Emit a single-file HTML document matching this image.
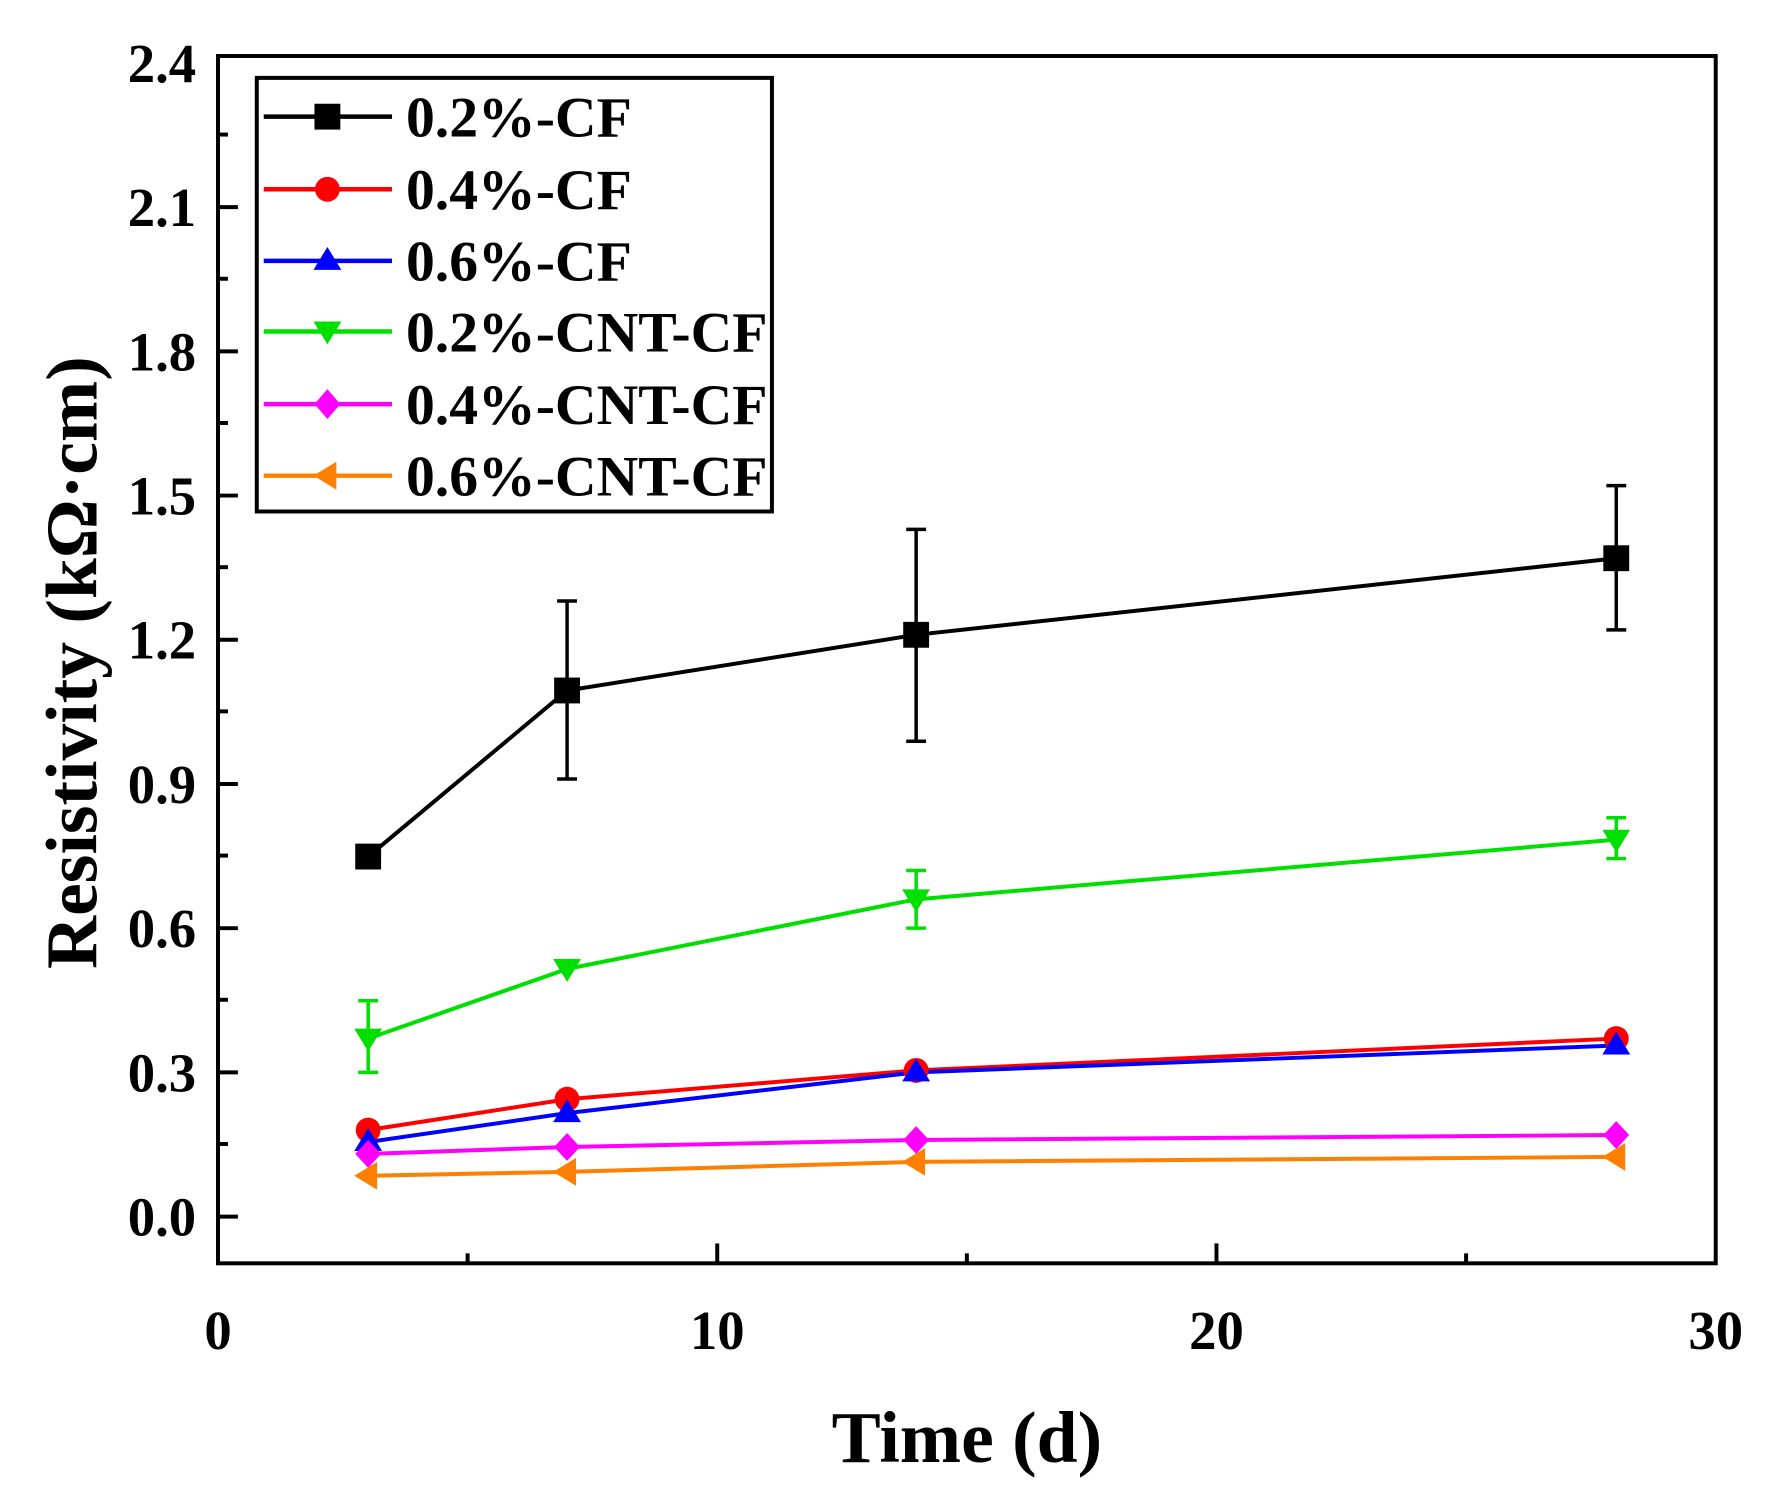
<!DOCTYPE html>
<html><head><meta charset="utf-8"><style>body{margin:0;background:#fff}</style></head><body>
<svg width="1775" height="1499" viewBox="0 0 1775 1499" xmlns="http://www.w3.org/2000/svg" font-family="Liberation Serif, serif" font-weight="bold">
<rect width="1775" height="1499" fill="#fff"/>
<g transform="translate(218,56) scale(0.9945) translate(-218,-56)">
<g stroke="#000" stroke-width="4">
<line x1="218" y1="1223" x2="238" y2="1223"/><line x1="218" y1="1078" x2="238" y2="1078"/>
<line x1="218" y1="933" x2="238" y2="933"/><line x1="218" y1="788" x2="238" y2="788"/>
<line x1="218" y1="643" x2="238" y2="643"/><line x1="218" y1="498" x2="238" y2="498"/>
<line x1="218" y1="353" x2="238" y2="353"/><line x1="218" y1="208" x2="238" y2="208"/>
<line x1="218" y1="1150" x2="228" y2="1150"/><line x1="218" y1="1005" x2="228" y2="1005"/>
<line x1="218" y1="860" x2="228" y2="860"/><line x1="218" y1="715" x2="228" y2="715"/>
<line x1="218" y1="570" x2="228" y2="570"/><line x1="218" y1="425" x2="228" y2="425"/>
<line x1="218" y1="280" x2="228" y2="280"/><line x1="218" y1="135" x2="228" y2="135"/>
<line x1="720" y1="1270" x2="720" y2="1250"/><line x1="1222" y1="1270" x2="1222" y2="1250"/>
<line x1="469" y1="1270" x2="469" y2="1260"/><line x1="971" y1="1270" x2="971" y2="1260"/><line x1="1473" y1="1270" x2="1473" y2="1260"/>
</g>
<rect x="218" y="56" width="1506" height="1214" fill="none" stroke="#000" stroke-width="4"/>
<g font-size="55" text-anchor="end">
<text x="196" y="1242">0.0</text><text x="196" y="1097">0.3</text><text x="196" y="952">0.6</text>
<text x="196" y="807">0.9</text><text x="196" y="662">1.2</text><text x="196" y="517">1.5</text>
<text x="196" y="372">1.8</text><text x="196" y="227">2.1</text><text x="196" y="82">2.4</text>
</g>
<g font-size="55" text-anchor="middle">
<text x="218" y="1356">0</text><text x="720" y="1356">10</text><text x="1222" y="1356">20</text><text x="1724" y="1356">30</text>
</g>
<text x="971" y="1470" font-size="74" text-anchor="middle">Time (d)</text>
<text transform="translate(96,666) rotate(-90)" font-size="74" text-anchor="middle">Resistivity (kΩ·cm)</text>
<g stroke-width="3.5" fill="none">
<g stroke="#000">
<path d="M369 850V872M359 850h20M359 872h20"/>
<path d="M569 604V783M559 604h20M559 783h20"/>
<path d="M920 532V745M910 532h20M910 745h20"/>
<path d="M1624 488V633M1614 488h20M1614 633h20"/>
</g>
<g stroke="#00e000">
<path d="M369 1006V1078M359 1006h20M359 1078h20"/>
<path d="M920 875V933M910 875h20M910 933h20"/>
<path d="M1624 822V863M1614 822h20M1614 863h20"/>
</g>
</g>
<g fill="none" stroke-width="4">
<polyline stroke="#000" points="369,861 569,694 920,638 1624,561"/>
<polyline stroke="#00e000" points="369,1044 569,974 920,904 1624,844"/>
<polyline stroke="#ff0000" points="369,1136 569,1105 920,1076 1624,1044"/>
<polyline stroke="#0000ff" points="369,1148 569,1119 920,1078 1624,1051"/>
<polyline stroke="#ff00ff" points="369,1160 569,1153 920,1146 1624,1141"/>
<polyline stroke="#ff8000" points="369,1182 569,1178 920,1168 1624,1163"/>
</g>
<g fill="#000"><rect x="356" y="848" width="26" height="26"/><rect x="556" y="681" width="26" height="26"/><rect x="907" y="625" width="26" height="26"/><rect x="1611" y="548" width="26" height="26"/></g>
<g fill="#00e000"><path d="M355 1034h28l-14 23z"/><path d="M555 964h28l-14 23z"/><path d="M906 894h28l-14 23z"/><path d="M1610 834h28l-14 23z"/></g>
<g fill="#ff0000"><circle cx="369" cy="1136" r="12.5"/><circle cx="569" cy="1105" r="12.5"/><circle cx="920" cy="1076" r="12.5"/><circle cx="1624" cy="1044" r="12.5"/></g>
<g fill="#0000ff"><path d="M369 1134l14 23h-28z"/><path d="M569 1105l14 23h-28z"/><path d="M920 1064l14 23h-28z"/><path d="M1624 1037l14 23h-28z"/></g>
<g fill="#ff00ff"><path d="M369 1146l13 14-13 14-13-14z"/><path d="M569 1139l13 14-13 14-13-14z"/><path d="M920 1132l13 14-13 14-13-14z"/><path d="M1624 1127l13 14-13 14-13-14z"/></g>
<g fill="#ff8000"><path d="M355 1182l23-14v28z"/><path d="M555 1178l23-14v28z"/><path d="M906 1168l23-14v28z"/><path d="M1610 1163l23-14v28z"/></g>
<rect x="257" y="78" width="518" height="436" fill="#fff" stroke="#000" stroke-width="4"/>
<g stroke-width="4.5">
<line x1="264" y1="117" x2="393" y2="117" stroke="#000"/>
<line x1="264" y1="190" x2="393" y2="190" stroke="#ff0000"/>
<line x1="264" y1="262" x2="393" y2="262" stroke="#0000ff"/>
<line x1="264" y1="333" x2="393" y2="333" stroke="#00e000"/>
<line x1="264" y1="406" x2="393" y2="406" stroke="#ff00ff"/>
<line x1="264" y1="478" x2="393" y2="478" stroke="#ff8000"/>
</g>
<rect x="315" y="104" width="26" height="26" fill="#000"/>
<circle cx="328" cy="190" r="12.5" fill="#ff0000"/>
<path d="M328 248l14 23h-28z" fill="#0000ff"/>
<path d="M314 323h28l-14 23z" fill="#00e000"/>
<path d="M328 391l13 15-13 15-13-15z" fill="#ff00ff"/>
<path d="M314 478l23-14v28z" fill="#ff8000"/>
<g font-size="58">
<text x="407" y="137">0.2%-CF</text>
<text x="407" y="210">0.4%-CF</text>
<text x="407" y="282">0.6%-CF</text>
<text x="407" y="353">0.2%-CNT-CF</text>
<text x="407" y="426">0.4%-CNT-CF</text>
<text x="407" y="498">0.6%-CNT-CF</text>
</g>
</g>
</svg>
</body></html>
